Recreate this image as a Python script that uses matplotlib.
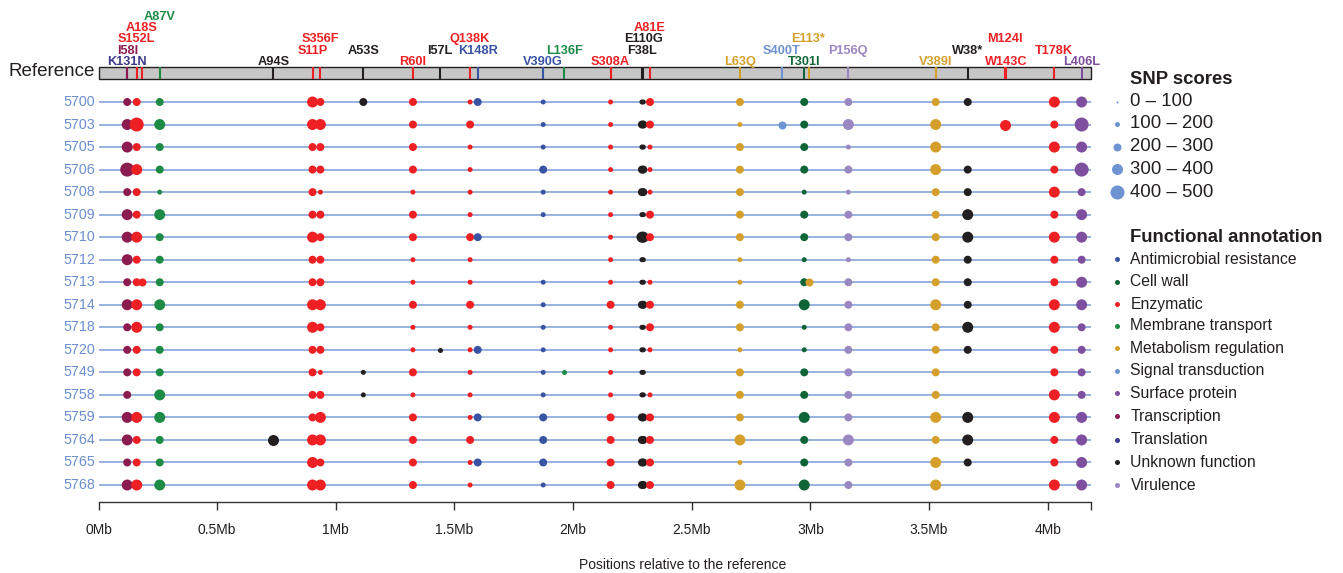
import matplotlib
matplotlib.use("Agg")
import matplotlib.pyplot as plt
from matplotlib.patches import Rectangle

plt.rcParams['font.family'] = ['Liberation Sans', 'DejaVu Sans']

# ---------------- data ----------------
samples = ['5700', '5703', '5705', '5706', '5708', '5709', '5710', '5712', '5713',
           '5714', '5718', '5720', '5749', '5758', '5759', '5764', '5765', '5768']

categories = ['Antimicrobial resistance', 'Cell wall', 'Enzymatic', 'Membrane transport',
              'Metabolism regulation', 'Signal transduction', 'Surface protein',
              'Transcription', 'Translation', 'Unknown function', 'Virulence']
category_colors = ['#3953A4', '#0F6535', '#EE2024', '#1D8B46', '#D4A02B', '#6D93D1',
                   '#7E4F9E', '#8A1C50', '#3B3A8D', '#231F20', '#9B87C1']

score_bin_labels = ['0 \u2013 100', '100 \u2013 200', '200 \u2013 300', '300 \u2013 400', '400 \u2013 500']
score_bin_mid = [50, 150, 250, 350, 450]

genome_length_mb = 4.183
tick_values = [0, 0.5, 1, 1.5, 2, 2.5, 3, 3.5, 4]
tick_labels = ['0Mb', '0.5Mb', '1Mb', '1.5Mb', '2Mb', '2.5Mb', '3Mb', '3.5Mb', '4Mb']

snp_names = ['K131N', 'I58I', 'S152L', 'A18S', 'A87V', 'A94S', 'S11P', 'S356F', 'A53S',
             'R60I', 'I57L', 'Q138K', 'K148R', 'V390G', 'L136F', 'S308A', 'F38L', 'E110G',
             'A81E', 'L63Q', 'S400T', 'T301I', 'E113*', 'P156Q', 'V389I', 'W38*', 'M124I',
             'W143C', 'T178K', 'L406L']
snp_pos_mb = [0.120, 0.121, 0.161, 0.182, 0.258, 0.737, 0.902, 0.935, 1.116,
              1.325, 1.439, 1.566, 1.598, 1.874, 1.962, 2.158, 2.290, 2.296,
              2.324, 2.703, 2.879, 2.974, 2.992, 3.160, 3.528, 3.663, 3.820,
              3.824, 4.028, 4.143]
snp_category = ['Translation', 'Transcription', 'Enzymatic', 'Enzymatic', 'Membrane transport',
                'Unknown function', 'Enzymatic', 'Enzymatic', 'Unknown function', 'Enzymatic',
                'Unknown function', 'Enzymatic', 'Antimicrobial resistance',
                'Antimicrobial resistance', 'Membrane transport', 'Enzymatic',
                'Unknown function', 'Unknown function', 'Enzymatic', 'Metabolism regulation',
                'Signal transduction', 'Cell wall', 'Metabolism regulation', 'Virulence',
                'Metabolism regulation', 'Unknown function', 'Enzymatic', 'Enzymatic',
                'Enzymatic', 'Surface protein']

# SNP scores per sample (0 = SNP absent), order follows `samples`
score_K131N = [0, 0, 0, 0, 0, 0, 0, 0, 0, 0, 0, 0, 0, 0, 0, 0, 0, 0]
score_I58I  = [250, 350, 350, 450, 250, 350, 350, 350, 250, 350, 250, 250, 250, 250, 350, 350, 250, 350]
score_S152L = [250, 450, 250, 350, 250, 250, 350, 250, 250, 350, 350, 250, 250, 0, 350, 250, 250, 350]
score_A18S  = [0, 0, 0, 0, 0, 0, 0, 0, 250, 0, 0, 0, 0, 0, 0, 0, 0, 0]
score_A87V  = [250, 350, 250, 250, 150, 350, 250, 250, 250, 350, 250, 250, 250, 350, 350, 250, 250, 350]
score_A94S  = [0, 0, 0, 0, 0, 0, 0, 0, 0, 0, 0, 0, 0, 0, 0, 350, 0, 0]
score_S11P  = [350, 350, 250, 250, 250, 250, 350, 250, 250, 350, 350, 250, 250, 250, 250, 350, 350, 350]
score_S356F = [250, 350, 250, 250, 150, 250, 250, 250, 250, 350, 250, 250, 150, 250, 350, 350, 250, 350]
score_A53S  = [250, 0, 0, 0, 0, 0, 0, 0, 0, 0, 0, 0, 150, 150, 0, 0, 0, 0]
score_R60I  = [250, 250, 250, 250, 150, 250, 250, 150, 150, 250, 150, 150, 250, 150, 250, 250, 250, 250]
score_I57L  = [0, 0, 0, 0, 0, 0, 0, 0, 0, 0, 0, 150, 0, 0, 0, 0, 0, 0]
score_Q138K = [150, 250, 150, 150, 150, 150, 250, 150, 150, 250, 150, 150, 150, 150, 150, 250, 150, 150]
score_K148R = [250, 0, 0, 0, 0, 0, 250, 0, 0, 0, 0, 250, 0, 0, 250, 0, 250, 0]
score_V390G = [150, 150, 150, 250, 150, 150, 0, 0, 150, 150, 150, 150, 150, 150, 250, 250, 250, 150]
score_L136F = [0, 0, 0, 0, 0, 0, 0, 0, 0, 0, 0, 0, 150, 0, 0, 0, 0, 0]
score_S308A = [150, 150, 150, 150, 150, 150, 150, 150, 150, 250, 150, 150, 150, 150, 250, 250, 250, 250]
score_F38L  = [150, 250, 150, 250, 250, 150, 350, 150, 150, 250, 150, 150, 150, 150, 250, 250, 250, 250]
score_E110G = [150, 250, 150, 250, 250, 150, 350, 150, 150, 250, 150, 150, 150, 150, 250, 250, 250, 250]
score_A81E  = [250, 250, 150, 150, 150, 250, 250, 0, 150, 250, 250, 150, 0, 150, 250, 250, 250, 250]
score_L63Q  = [250, 150, 250, 250, 250, 250, 250, 150, 150, 250, 250, 150, 250, 250, 250, 350, 150, 350]
score_S400T = [0, 250, 0, 0, 0, 0, 0, 0, 0, 0, 0, 0, 0, 0, 0, 0, 0, 0]
score_T301I = [250, 250, 250, 250, 150, 250, 250, 150, 250, 350, 150, 150, 250, 250, 350, 250, 250, 350]
score_E113x = [0, 0, 0, 0, 0, 0, 0, 0, 250, 0, 0, 0, 0, 0, 0, 0, 0, 0]
score_P156Q = [250, 350, 150, 250, 150, 250, 250, 150, 250, 250, 250, 250, 250, 250, 250, 350, 250, 250]
score_V389I = [250, 350, 350, 350, 250, 250, 250, 250, 250, 350, 250, 250, 250, 250, 350, 250, 350, 350]
score_W38x  = [250, 0, 0, 250, 250, 350, 350, 250, 250, 250, 350, 250, 0, 0, 350, 350, 250, 0]
score_M124I = [0, 350, 0, 0, 0, 0, 0, 0, 0, 0, 0, 0, 0, 0, 0, 0, 0, 0]
score_W143C = [0, 0, 0, 0, 0, 0, 0, 0, 0, 0, 0, 0, 0, 0, 0, 0, 0, 0]
score_T178K = [350, 250, 350, 250, 350, 250, 350, 250, 250, 350, 350, 250, 250, 350, 350, 250, 250, 350]
score_L406L = [350, 450, 350, 450, 250, 350, 350, 250, 350, 350, 250, 250, 250, 250, 350, 350, 350, 350]

snp_scores = [score_K131N, score_I58I, score_S152L, score_A18S, score_A87V, score_A94S,
              score_S11P, score_S356F, score_A53S, score_R60I, score_I57L, score_Q138K,
              score_K148R, score_V390G, score_L136F, score_S308A, score_F38L, score_E110G,
              score_A81E, score_L63Q, score_S400T, score_T301I, score_E113x, score_P156Q,
              score_V389I, score_W38x, score_M124I, score_W143C, score_T178K, score_L406L]

# ---------------- layout (pixels) ----------------
W, H, DPI = 1343, 573, 100
X0_PX, PX_PER_MB = 98.5, 237.3
ROW0_PX, ROW_STEP = 102.0, 22.53
AXIS_PX = 502.0
label_level_px = [62, 51, 39, 28, 17]
snp_label_level = [0, 1, 2, 3, 4, 0, 1, 2, 1, 0, 1, 2, 1, 0, 1, 0, 1, 2, 3, 0, 1, 0, 2, 1, 0, 1, 2, 0, 1, 0]
TXT = '#231F20'
ROWCOL = '#6B8ED0'


def ydata(px):
    return (px - ROW0_PX) / ROW_STEP


def size_pts2(score):
    d_px = 0.5 + 0.03 * score
    return (d_px * 72.0 / DPI) ** 2


cat_color = dict(zip(categories, category_colors))

fig = plt.figure(figsize=(W / DPI, H / DPI), dpi=DPI)

x_right_px = X0_PX + genome_length_mb * PX_PER_MB
ax = fig.add_axes([X0_PX / W, (H - AXIS_PX) / H, (x_right_px - X0_PX) / W, AXIS_PX / H])
ax.set_xlim(0, genome_length_mb)
ax.set_ylim(ydata(AXIS_PX), ydata(0))
for s in ['top', 'left', 'right']:
    ax.spines[s].set_visible(False)
ax.spines['bottom'].set_color('#333333')
ax.spines['bottom'].set_linewidth(1.0)
ax.set_yticks([])
ax.set_xticks(tick_values + [genome_length_mb])
ax.set_xticklabels(tick_labels + [''])
ax.tick_params(axis='x', direction='out', length=6, width=1.0, color='#333333',
               pad=9, labelsize=10, labelcolor=TXT)
ax.patch.set_visible(False)

# rows
n = len(samples)
ax.hlines(range(n), 0, genome_length_mb, color='#7C9CD6', lw=1.1, zorder=1)
for i, name in enumerate(samples):
    ax.text(-0.015, i, name, ha='right', va='center', fontsize=10.3, color=ROWCOL, clip_on=False)

# reference bar
y_top, y_bot = ydata(66.7), ydata(79.3)
ax.add_patch(Rectangle((0, y_bot), genome_length_mb, y_top - y_bot, facecolor='#C6C6C6',
                       edgecolor=TXT, lw=1.0, zorder=2, clip_on=False))
for name, pos, cat, lvl in zip(snp_names, snp_pos_mb, snp_category, snp_label_level):
    col = cat_color[cat]
    ax.vlines(pos, y_bot, y_top, color=col, lw=1.5, zorder=3, clip_on=False)
    ax.text(pos, ydata(label_level_px[lvl]), name, ha='center', va='center', fontsize=9.2,
            fontweight='bold', color=col, clip_on=False, zorder=4)

# dots
for pos, cat, scores in zip(snp_pos_mb, snp_category, snp_scores):
    xs, ys, ss = [], [], []
    for i, sc in enumerate(scores):
        if sc > 0:
            xs.append(pos)
            ys.append(i)
            ss.append(size_pts2(sc))
    if xs:
        ax.scatter(xs, ys, s=ss, color=cat_color[cat], linewidths=0, zorder=5, clip_on=False)

# overlay axes in pixel coordinates
pa = fig.add_axes([0, 0, 1, 1])
pa.set_xlim(0, W)
pa.set_ylim(H, 0)
pa.axis('off')
pa.patch.set_visible(False)

pa.text(95, 72, 'Reference', ha='right', va='center', fontsize=13.5, color=TXT)
pa.text(683, 565, 'Positions relative to the reference', ha='center', va='center',
        fontsize=10, color=TXT)

# legend: SNP scores
pa.text(1130.5, 79, 'SNP scores', ha='left', va='center', fontsize=13.3, fontweight='bold', color=TXT)
score_y = [101.7, 124, 146.7, 169, 192.3]
for lab, mid, yy in zip(score_bin_labels, score_bin_mid, score_y):
    pa.scatter([1117], [yy], s=size_pts2(mid), color='#6D93D1', linewidths=0)
    pa.text(1130.5, yy, lab, ha='left', va='center', fontsize=13.4, color=TXT)

# legend: functional annotation
pa.text(1130.5, 237.7, 'Functional annotation', ha='left', va='center', fontsize=13.3,
        fontweight='bold', color=TXT)
cat_y = [259.3, 281.7, 304, 325.7, 348.3, 370.7, 393.3, 416, 440, 462.3, 485]
for cat, col, yy in zip(categories, category_colors, cat_y):
    pa.scatter([1117], [yy], s=(5 * 72 / DPI) ** 2, color=col, linewidths=0)
    pa.text(1130.5, yy, cat, ha='left', va='center', fontsize=11.3, color=TXT)

fig.savefig('out.png', dpi=DPI)
